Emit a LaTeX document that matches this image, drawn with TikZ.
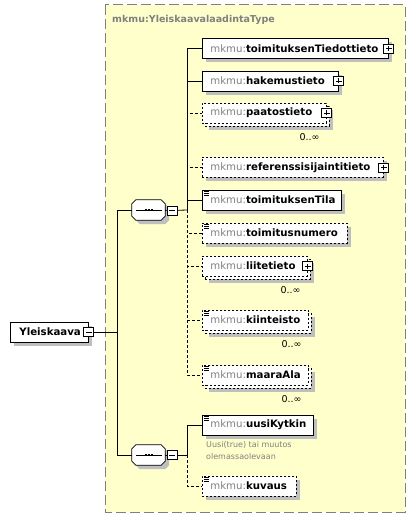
\documentclass[tikz,border=0pt]{standalone}
\usepackage{fontspec}
\setmainfont{DejaVu Sans}
\usetikzlibrary{positioning,shadows}
\definecolor{typefill}{HTML}{FFFFCC}
\definecolor{prefixgray}{HTML}{808080}
\newcommand{\mk}[1]{{\color{prefixgray}mkmu:}\textbf{#1}}
\newcommand{\okta}[2][]{\path[#1] ([xshift=4pt]#2.north west) -- ([xshift=-4pt]#2.north east)
  -- ([yshift=-4pt]#2.north east) -- ([yshift=4pt]#2.south east) -- ([xshift=-4pt]#2.south east)
  -- ([xshift=4pt]#2.south west) -- ([yshift=4pt]#2.south west) -- ([yshift=-4pt]#2.north west) -- cycle;}
\tikzset{
  elem/.style={draw, fill=white, line width=.8pt, minimum height=20pt, inner xsep=8pt, inner ysep=0pt,
    anchor=west, align=left, font=\fontsize{10.2}{12}\selectfont},
  solo/.style={drop shadow={shadow xshift=4pt, shadow yshift=-4pt, fill=black!25, opacity=1}},
  many/.style={drop shadow={shadow xshift=7pt, shadow yshift=-7pt, fill=black!25, opacity=1},
    copy shadow={shadow xshift=3pt, shadow yshift=-3pt, fill=white, draw=black, line width=.8pt,
      dash pattern=on 2pt off 2pt, opacity=1}},
  optional/.style={dash pattern=on 2pt off 2pt},
  leaf/.style={path picture={\foreach \k in {1.2,3,4.8}
      \draw[solid, line width=.45pt] ([xshift=1.5pt, yshift=-\k pt]path picture bounding box.north west) -- ++(5.5pt,0);}},
  minusbox/.style={draw, fill=white, line width=.8pt, minimum width=10pt, minimum height=9pt, inner sep=0pt,
    path picture={\draw[solid] ([xshift=2pt]path picture bounding box.west) -- ([xshift=-2pt]path picture bounding box.east);}},
  plusbox/.style={minusbox,
    path picture={\draw[solid] ([xshift=2pt]path picture bounding box.west) -- ([xshift=-2pt]path picture bounding box.east);
      \draw[solid] ([yshift=-2pt]path picture bounding box.north) -- ([yshift=2pt]path picture bounding box.south);}},
  seq/.style={minimum width=33pt, minimum height=20pt, inner sep=0pt},
  conn/.style={line width=.8pt},
  optline/.style={conn, dash pattern=on 3pt off 2pt},
  occurs/.style={anchor=north east, inner sep=0pt, font=\fontsize{9.5}{11}\selectfont},
  note/.style={anchor=north west, inner sep=0pt, align=left, text=prefixgray, font=\fontsize{8}{12}\selectfont},
  typebox/.style={draw=prefixgray, fill=typefill, line width=1pt, dash pattern=on 10pt off 4pt},
  typetitle/.style={anchor=west, inner sep=0pt, text=prefixgray, font=\fontsize{9.5}{11}\selectfont\bfseries}
}
\begin{document}
\begin{tikzpicture}[x=1pt,y=-1pt]
  \useasboundingbox (0,0) rectangle (416,518);
  \draw[typebox] (105,5) rectangle (405,512);
  \path (112,20) node[typetitle] (typename) {mkmu:YleiskaavalaadintaType};

  \path (10,332) node[elem, solo, text width=60pt, inner xsep=9pt] (yleiskaava) {\textbf{Yleiskaava}};
  \node[minusbox] (yleiskaavam) at (yleiskaava.east) {};
  \path (148.5,210) node[seq] (sekvenssi) {}
        (148.5,455) node[seq] (kytkinsekvenssi) {};
  \foreach \n in {sekvenssi,kytkinsekvenssi} {
    \node[seq] (\n-varjo) at ([xshift=4pt, yshift=-4pt]\n.center) {};
    \okta[fill=black!25]{\n-varjo}
    \okta[draw, fill=white, line width=.8pt]{\n}
    \draw[line width=.8pt] ([xshift=4pt]\n.west) -- ([xshift=-3pt]\n.east);
    \foreach \d in {-4,-1,2}
      \fill ([xshift=\d pt, yshift=-1pt]\n.center) rectangle +(2pt,2pt);
  }
  \path (172,210.5) node[minusbox] (sekvenssim) {}
        (172,455) node[minusbox] (kytkinsekvenssim) {};
  \coordinate (runko) at (117,332);
  \coordinate (haara) at (187,210);
  \coordinate (kytkinhaara) at (187,455);

  \path (202,48.5) node[elem, solo, text width=170pt] (tiedottieto) {\mk{toimituksenTiedottieto}}
        (202,81) node[elem, solo, text width=120pt] (hakemus) {\mk{hakemustieto}}
        (202,113) node[elem, many, optional, text width=108pt] (paatos) {\mk{paatostieto}}
        (202,167.5) node[elem, solo, optional, text width=165pt] (referenssi) {\mk{referenssisijaintitieto}}
        (202,200) node[elem, solo, leaf, text width=123pt] (tila) {\mk{toimituksenTila}}
        (202,233) node[elem, solo, leaf, optional, text width=129pt] (numero) {\mk{toimitusnumero}}
        (202,266) node[elem, many, optional, text width=89pt] (liite) {\mk{liitetieto}}
        (202,320) node[elem, many, leaf, optional, text width=90pt] (kiinteisto) {\mk{kiinteisto}}
        (202,375) node[elem, many, leaf, optional, text width=90pt] (maaraala) {\mk{maaraAla}}
        (202,425) node[elem, solo, leaf, text width=95pt] (kytkin) {\mk{uusiKytkin}}
        (202,486) node[elem, solo, leaf, optional, text width=78pt] (kuvaus) {\mk{kuvaus}};

  \node[plusbox] at (tiedottieto.east) {};
  \node[plusbox] at (hakemus.east) {};
  \node[plusbox] at (paatos.east) {};
  \node[plusbox] at (referenssi.east) {};
  \node[plusbox] at (liite.east) {};

  \path ([xshift=-7pt, yshift=-10pt]paatos.south east) node[occurs] (paatosmaara) {0..∞}
        ([xshift=-7pt, yshift=-10pt]liite.south east) node[occurs] (liitemaara) {0..∞}
        ([xshift=-7pt, yshift=-10pt]kiinteisto.south east) node[occurs] (kiinteistomaara) {0..∞}
        ([xshift=-7pt, yshift=-10pt]maaraala.south east) node[occurs] (maaraalamaara) {0..∞};
  \path (206,441) node[note] (kytkinselite) {Uusi(true) tai muutos\\olemassaolevaan};

  \draw[conn] (yleiskaavam) -- (runko);
  \draw[conn] (runko) |- (sekvenssi);
  \draw[conn] (runko) |- (kytkinsekvenssi);
  \draw[conn] (sekvenssi) -- (sekvenssim);
  \draw[conn] (sekvenssim) -- (haara);
  \draw[conn] (kytkinsekvenssi) -- (kytkinsekvenssim);
  \draw[conn] (kytkinsekvenssim) -- (kytkinhaara);
  \draw[conn] (haara) |- (tiedottieto);
  \draw[conn] (haara) |- (hakemus);
  \draw[conn] (haara) |- (tila);
  \draw[optline] (haara) |- (paatos);
  \draw[optline] (haara) |- (referenssi);
  \draw[optline] (haara) |- (numero);
  \draw[optline] (haara) |- (liite);
  \draw[optline] (haara) |- (kiinteisto);
  \draw[optline] (haara) |- (maaraala);
  \draw[conn] (kytkinhaara) |- (kytkin);
  \draw[optline] (kytkinhaara) |- (kuvaus);
\end{tikzpicture}
\end{document}
